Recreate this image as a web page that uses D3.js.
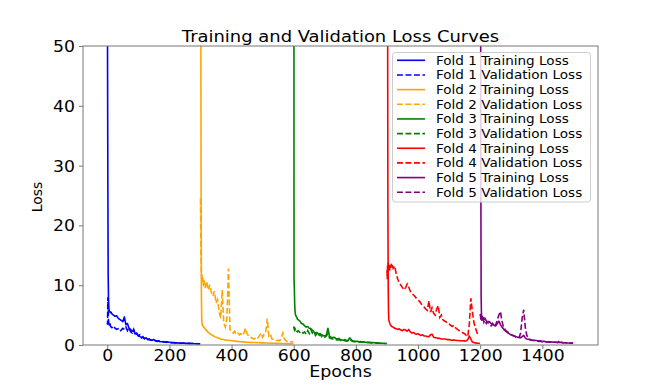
<!DOCTYPE html>
<html>
<head>
<meta charset="utf-8">
<script src="https://cdn.jsdelivr.net/npm/d3@7"></script>
<style>
  html, body { margin: 0; padding: 0; background: #fff; }
  svg { display: block; }
  text { font-family: "DejaVu Sans", sans-serif; fill: #000; }
</style>
</head>
<body>
<svg id="chart" width="664" height="388"></svg>
<script>
// ---------------- data ----------------
// epochs within one fold (each fold is 300 epochs, plotted end to end)
const epochs = [0,1,2,3,4,5,6,8,10,12,15,20,25,30,35,40,45,50,55,60,65,70,75,80,85,90,95,100,
  105,110,115,120,125,130,135,140,145,150,155,160,165,170,175,180,185,190,195,200,205,210,215,
  220,225,230,235,240,245,250,255,260,265,270,275,280,285,290,295,299];
const foldOffsets = [0, 300, 600, 900, 1200];

const trainLoss1 = [120,46.5,27,11.8,8,6.5,5.8,5.6,5.4,5.5,5.2,5.0,4.8,4.9,4.5,4.3,4.1,3.9,4.7,3.4,
  3.6,2.8,2.6,2.3,2.5,1.9,1.8,1.6,1.4,1.3,1.2,1.1,1.2,0.95,0.9,0.85,0.8,0.9,0.7,0.65,0.7,0.6,0.55,
  0.6,0.5,0.55,0.45,0.45,0.4,0.42,0.38,0.35,0.37,0.32,0.3,0.32,0.3,0.28,0.27,0.28,0.25,0.24,0.25,
  0.22,0.22,0.21,0.2,0.2];
const valLoss1 = [3.7,3.4,8.0,6.0,4.2,3.7,3.5,3.8,3.3,3.0,2.9,3.2,2.8,2.6,2.7,2.3,2.5,2.8,2.6,3.0,
  2.4,2.9,2.2,2.0,2.6,1.7,2.0,1.5,1.7,1.2,1.4,1.0,1.1,0.9,1.0,0.8,0.85,0.7,0.75,0.6,0.65,0.55,0.6,
  0.5,0.55,0.45,0.5,0.4,0.42,0.38,0.4,0.35,0.36,0.33,0.34,0.3,0.32,0.29,0.3,0.27,0.28,0.25,0.26,
  0.24,0.23,0.22,0.22,0.21];

const trainLoss2 = [150,60,25,8,4.5,3.6,3.3,3.2,3.0,2.9,2.7,2.4,2.1,1.9,1.7,1.6,1.4,1.3,1.2,1.1,
  1.0,0.95,0.9,0.85,0.8,0.8,0.75,0.7,0.72,0.65,0.6,0.62,0.55,0.55,0.5,0.52,0.48,0.45,0.46,0.43,
  0.44,0.41,0.42,0.4,0.38,0.39,0.36,0.35,0.36,0.33,0.34,0.3,0.31,0.29,0.3,0.28,0.28,0.27,0.26,
  0.25,0.25,0.24,0.23,0.23,0.22,0.21,0.2,0.2];
const valLoss2 = [24.5,17.5,14,12,11,11.8,10.5,11.2,9.8,10.8,9.5,10.6,9.2,10.1,8.8,8.2,9.0,7.0,7.6,
  5.5,4.5,9.2,3.6,3.0,4.5,12.8,2.6,2.2,2.0,2.3,1.8,2.0,1.7,1.9,1.6,2.0,2.8,1.9,1.5,1.3,1.2,1.0,1.1,
  0.9,1.2,1.6,2.0,1.3,1.8,2.2,4.4,1.5,1.8,1.0,0.9,0.8,0.75,0.8,0.7,1.2,2.0,1.0,0.7,0.6,0.65,0.5,
  0.55,0.5];

const trainLoss3 = [150,11,9.5,7,5.8,5.3,5.0,4.8,4.6,4.3,4.2,4.0,3.6,3.5,3.2,3.0,3.1,2.8,2.7,2.5,
  2.2,2.0,2.1,1.8,1.9,1.7,1.6,1.5,1.7,2.8,1.5,1.3,1.2,1.3,1.1,1.0,1.1,0.9,0.85,0.8,0.9,0.75,0.8,
  1.2,0.9,0.7,0.65,0.6,0.62,0.55,0.57,0.5,0.52,0.48,0.47,0.45,0.44,0.4,0.42,0.38,0.36,0.35,0.33,
  0.3,0.3,0.28,0.26,0.25];
const valLoss3 = [3.1,2.8,2.6,2.7,2.5,2.6,2.4,2.5,2.3,2.2,2.4,2.1,2.3,2.0,2.2,1.8,2.4,1.9,2.6,2.0,
  2.3,1.6,1.9,1.5,1.8,1.4,1.6,1.3,1.5,1.9,1.2,1.1,1.0,1.05,0.9,0.85,0.9,0.8,0.7,0.75,0.7,0.65,0.7,
  1.1,0.75,0.6,0.55,0.55,0.52,0.5,0.48,0.46,0.45,0.42,0.4,0.4,0.38,0.36,0.35,0.33,0.32,0.3,0.3,
  0.28,0.27,0.26,0.25,0.25];

const trainLoss4 = [150,90,60,23,10,5.5,4.2,3.8,3.5,3.3,3.1,3.0,2.8,2.7,2.6,2.7,2.5,2.4,2.6,2.5,
  2.3,2.6,2.2,2.0,2.1,1.9,1.8,1.9,1.7,1.6,1.7,1.5,1.5,1.4,1.4,1.7,1.8,1.3,1.2,1.2,1.1,1.1,1.0,1.0,
  1.0,0.95,0.9,0.9,0.85,0.8,0.85,0.8,0.75,0.75,0.7,0.7,0.7,0.65,0.7,0.9,1.5,1.0,0.5,0.4,0.35,0.3,
  0.3,0.25];
const valLoss4 = [12.5,11,13.5,12,13.8,12.8,13.2,12.2,13.5,12.9,13.7,12.8,13.2,11.8,11,10.3,10.0,
  9.6,9.2,9.6,10.2,9.7,9.0,8.6,8.4,8.1,7.8,7.5,7.3,6.9,6.6,6.3,6.0,5.8,7.4,5.5,6.2,5.3,5.0,6.0,6.6,
  4.6,5.0,4.2,4.0,3.9,3.6,3.5,3.3,3.1,3.3,2.9,2.7,2.5,2.3,2.2,2.0,1.9,1.6,1.4,3.5,7.8,5.5,3.7,2.8,
  2.0,1.8,1.7];

const trainLoss5 = [150,80,30,8,5.2,4.5,4.8,4.4,4.6,4.3,4.5,4.0,3.8,3.9,3.6,3.5,3.3,3.2,3.6,4.0,
  3.4,3.0,2.7,2.4,2.2,2.0,1.8,1.7,1.6,1.5,1.4,1.3,1.3,1.2,1.4,1.6,1.2,1.0,0.95,0.9,0.85,0.8,0.8,
  0.75,0.7,0.7,0.65,0.6,0.6,0.57,0.55,0.52,0.5,0.5,0.48,0.46,0.45,0.44,0.42,0.45,0.4,0.38,0.37,
  0.35,0.34,0.32,0.31,0.3];
const valLoss5 = [5.2,4.8,4.2,4.9,4.4,3.9,4.6,4.0,4.4,3.8,4.1,3.6,3.9,3.4,3.2,3.6,3.0,3.4,4.2,5.0,
  5.6,4.0,3.0,2.6,2.3,2.1,1.9,1.7,1.6,1.5,1.3,1.2,1.2,2.0,4.5,5.9,3.0,1.6,1.1,0.9,0.8,0.75,0.7,0.7,
  0.65,0.6,0.6,0.55,0.55,0.52,0.5,0.5,0.48,0.46,0.45,0.45,0.44,0.42,0.7,0.45,0.4,0.38,0.37,0.35,
  0.34,0.33,0.32,0.3];

const trainSeries = [trainLoss1, trainLoss2, trainLoss3, trainLoss4, trainLoss5];
const valSeries = [valLoss1, valLoss2, valLoss3, valLoss4, valLoss5];
const foldColors = ["#0000ff", "#ffa500", "#008000", "#ff0000", "#800080"];
const xTicks = [0, 200, 400, 600, 800, 1000, 1200, 1400];
const yTicks = [0, 10, 20, 30, 40, 50];
const titleText = "Training and Validation Loss Curves";
const xLabel = "Epochs";
const yLabel = "Loss";

// ---------------- layout ----------------
const svg = d3.select("#chart");
const plot = { left: 83, right: 598, top: 46, bottom: 345 };
const sx = 1.15; // horizontal stretch of text as in the reference raster

const x = d3.scaleLinear().domain([-78, 1579]).range([plot.left, plot.right]);
const y = d3.scaleLinear().domain([0, 50]).range([plot.bottom, plot.top]);

svg.append("defs").append("clipPath").attr("id", "clip")
  .append("rect").attr("x", plot.left).attr("y", plot.top)
  .attr("width", plot.right - plot.left).attr("height", plot.bottom - plot.top);

const line = d3.line().x(d => x(d[0])).y(d => y(d[1]));
const lw = 1.6;
const dash = `${3.7 * lw},${1.6 * lw}`;

const lines = svg.append("g").attr("clip-path", "url(#clip)");
for (let f = 0; f < 5; f++) {
  const tr = epochs.map((e, i) => [foldOffsets[f] + e, trainSeries[f][i]]);
  const va = epochs.map((e, i) => [foldOffsets[f] + e, valSeries[f][i]]);
  lines.append("path").attr("d", line(tr)).attr("fill", "none")
    .attr("stroke", foldColors[f]).attr("stroke-width", lw).attr("stroke-linejoin", "round");
  lines.append("path").attr("d", line(va)).attr("fill", "none")
    .attr("stroke", foldColors[f]).attr("stroke-width", lw).attr("stroke-dasharray", dash);
}

// frame
svg.append("rect").attr("x", plot.left).attr("y", plot.top)
  .attr("width", plot.right - plot.left).attr("height", plot.bottom - plot.top)
  .attr("fill", "none").attr("stroke", "#777").attr("stroke-width", 1);

// axes
const xAxis = svg.append("g").attr("transform", `translate(0,${plot.bottom})`)
  .call(d3.axisBottom(x).tickValues(xTicks).tickFormat(d3.format("d")).tickSize(4).tickPadding(3));
const yAxis = svg.append("g").attr("transform", `translate(${plot.left},0)`)
  .call(d3.axisLeft(y).tickValues(yTicks).tickFormat(d3.format("d")).tickSize(4).tickPadding(3));
[xAxis, yAxis].forEach(a => {
  a.select(".domain").remove();
  a.selectAll(".tick line").attr("stroke", "#777");
  a.selectAll(".tick text").attr("font-family", "DejaVu Sans").attr("font-size", 15).attr("fill", "#111");
});
xAxis.selectAll(".tick text").attr("dy", null).attr("y", 0)
  .attr("transform", `translate(0,15.8) scale(${sx},1)`);
yAxis.selectAll(".tick text").attr("x", 0).attr("dy", null)
  .attr("transform", `translate(-8,5.4) scale(${sx},1)`);

function stretchedText(tx, ty, str, size, anchor) {
  return svg.append("text").attr("transform", `translate(${tx},${ty}) scale(${sx},1)`)
    .attr("text-anchor", anchor).attr("font-size", size).text(str);
}

stretchedText(340.5, 42, titleText, 15.6, "middle");
stretchedText(340.5, 377, xLabel, 15.2, "middle");
svg.append("text").attr("transform", "translate(42,197) rotate(-90)")
  .attr("text-anchor", "middle").attr("font-size", 14).text(yLabel);

// legend
const legend = svg.append("g");
legend.append("rect").attr("x", 392.5).attr("y", 52.5).attr("width", 198).attr("height", 149.5)
  .attr("rx", 3).attr("fill", "#fff").attr("fill-opacity", 0.8)
  .attr("stroke", "#ccc").attr("stroke-width", 1);
const entries = [];
for (let f = 0; f < 5; f++) {
  entries.push({ label: `Fold ${f + 1} Training Loss`, color: foldColors[f], dashed: false });
  entries.push({ label: `Fold ${f + 1} Validation Loss`, color: foldColors[f], dashed: true });
}
entries.forEach((d, i) => {
  const cy = 60.3 + i * 14.66;
  legend.append("line").attr("x1", 397).attr("x2", 425).attr("y1", cy).attr("y2", cy)
    .attr("stroke", d.color).attr("stroke-width", lw)
    .attr("stroke-dasharray", d.dashed ? dash : null);
  legend.append("text").attr("transform", `translate(436,${cy + 4.5}) scale(${sx},1)`)
    .attr("font-size", 11.8).text(d.label);
});
</script>
</body>
</html>
